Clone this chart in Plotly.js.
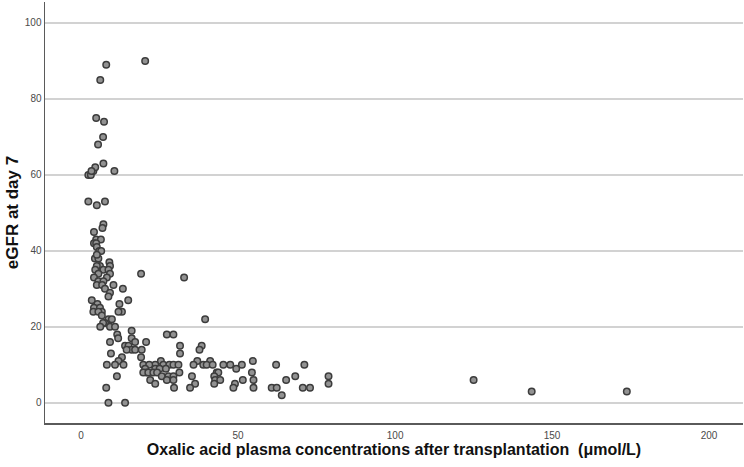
<!DOCTYPE html>
<html>
<head>
<meta charset="utf-8">
<script src="https://cdn.plot.ly/plotly-3.0.1.min.js"></script>
<style>
  html, body { margin: 0; padding: 0; background: #fff; }
  #chart { width: 744px; height: 467px; }
</style>
</head>
<body>
<div id="chart"></div>
<script>
// Oxalic acid plasma concentration after transplantation (µmol/L)
const oxalate = [
  8.0, 20.4, 6.1, 4.8, 7.3, 7.0, 5.4, 7.1,
  2.3, 3.1, 3.9, 4.5, 3.3, 10.6,
  2.3, 5.0, 7.6,
  7.1, 6.8, 4.1,
  4.8, 6.3, 4.1, 4.8, 5.0, 5.8, 6.4,
  4.4, 5.5, 5.0, 9.0, 6.0, 9.2, 5.0,
  4.5, 7.1, 8.7, 9.2, 5.5, 19.1,
  32.8, 4.1, 8.2, 5.5, 7.1, 5.0, 6.7, 10.3,
  7.6, 13.3, 9.2, 8.7, 3.4, 15.0,
  5.2, 12.2, 4.1, 6.0,
  6.6, 13.0, 3.9, 5.5, 11.9, 6.6,
  8.7, 9.8, 39.5, 7.6, 7.0,
  6.1, 9.2, 10.8,
  16.1, 27.3, 29.4, 11.5, 16.1, 11.8,
  17.2, 9.2, 20.7,
  14.0, 15.1, 31.5, 38.4,
  16.1, 14.5, 17.2, 19.3, 37.7,
  9.5, 31.5, 19.1, 13.0,
  11.9, 25.4, 37.0, 41.1, 54.7,
  10.8, 8.2, 13.5, 19.8, 23.6, 26.2, 28.1, 29.4, 31.0, 35.8, 38.9, 40.0, 41.9, 45.3, 47.5, 51.2, 62.1, 71.1, 21.7,
  20.4, 23.6, 25.0, 27.0, 49.4,
  20.9, 19.8, 21.4, 23.0, 24.2, 31.3, 43.2, 43.7, 54.4,
  11.4, 25.7, 27.8, 29.4, 35.3, 42.4, 68.2, 78.8,
  22.0, 27.3, 29.4, 42.7, 44.3, 51.5, 54.9, 65.3, 125.0,
  23.6, 36.3, 42.4, 49.0, 78.8,
  8.0, 29.6, 34.7, 48.5, 54.9, 60.7, 62.3, 70.6, 72.9,
  143.5, 173.8, 63.9, 8.7, 14.0
];

// eGFR at day 7 for the same patients
const egfr = [
  89, 90, 85, 75, 74, 70, 68, 63,
  60, 60, 61, 62, 61, 61,
  53, 52, 53,
  47, 46, 45,
  43, 43, 42, 42, 41, 40, 40,
  38, 38, 39, 37, 36, 36, 36,
  35, 35, 35, 34, 34, 34,
  33, 33, 33, 32, 32, 31, 31, 31,
  30, 30, 29, 28, 27, 27,
  26, 26, 25, 25,
  24, 24, 24, 24, 24, 23,
  22, 22, 22, 21, 21,
  20, 20, 20,
  19, 18, 18, 18, 17, 17,
  16, 16, 16,
  15, 15, 15, 15,
  14, 14, 14, 14, 14,
  13, 13, 12, 12,
  11, 11, 11, 11, 11,
  10, 10, 10, 10, 10, 10, 10, 10, 10, 10, 10, 10, 10, 10, 10, 10, 10, 10, 10,
  9, 9, 9, 9, 9,
  8, 8, 8, 8, 8, 8, 8, 8, 8,
  7, 7, 7, 7, 7, 7, 7, 7,
  6, 6, 6, 6, 6, 6, 6, 6, 6,
  5, 5, 5, 5, 5,
  4, 4, 4, 4, 4, 4, 4, 4, 4,
  3, 3, 2, 0, 0
];

const xTicks = [0, 50, 100, 150, 200];
const yTicks = [0, 20, 40, 60, 80, 100];

const trace = {
  type: 'scatter',
  mode: 'markers',
  x: oxalate,
  y: egfr,
  marker: {
    size: 6.5,
    color: '#929292',
    line: { color: '#3c3c3c', width: 1.5 }
  },
  hoverinfo: 'x+y'
};

const tickFont = { family: 'Liberation Sans, Arial, sans-serif', size: 10, color: '#4a4a4a' };

const layout = {
  width: 744,
  height: 467,
  margin: { l: 45, r: 1, t: 2, b: 44 },
  paper_bgcolor: '#ffffff',
  plot_bgcolor: '#ffffff',
  showlegend: false,
  xaxis: {
    range: [-11.5, 210.8],
    tickvals: xTicks,
    ticktext: xTicks.map(String),
    showgrid: false,
    zeroline: false,
    showline: true,
    linecolor: '#5a5a5a',
    linewidth: 1.5,
    ticks: '',
    ticklabelstandoff: 2,
    tickfont: tickFont,
    title: {
      text: '<b>Oxalic acid plasma concentrations after transplantation \u00a0(μmol/L)</b>',
      font: { family: 'Liberation Sans, Arial, sans-serif', size: 16, color: '#111' },
      standoff: 4
    }
  },
  yaxis: {
    range: [-5.3, 105.5],
    tickvals: yTicks,
    ticktext: yTicks.map(String),
    showgrid: true,
    gridcolor: '#d2d2d2',
    gridwidth: 1.6,
    zeroline: false,
    showline: true,
    linecolor: '#5a5a5a',
    linewidth: 1.5,
    ticks: '',
    tickfont: tickFont,
    title: {
      text: '<b>eGFR at day 7</b>',
      font: { family: 'Liberation Sans, Arial, sans-serif', size: 17, color: '#111' },
      standoff: 2
    }
  }
};

Plotly.newPlot('chart', [trace], layout, { displayModeBar: false, staticPlot: true });
</script>
</body>
</html>
